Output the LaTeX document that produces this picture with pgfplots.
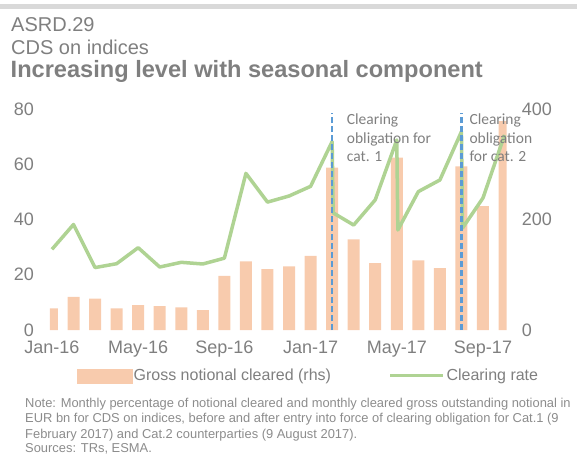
\documentclass[border=0pt]{standalone}
\usepackage{fontspec}
\setmainfont{Liberation Sans}
\newfontfamily\carlito{Carlito}
\usepackage{pgfplots}
\usepackage{pgfplotstable}
\pgfplotsset{compat=1.18}

\definecolor{txtgray}{HTML}{7F7F7F}
\definecolor{notegray}{HTML}{8C8C8C}
\definecolor{barc}{HTML}{F8CBAD}
\definecolor{linec}{HTML}{AFD393}
\definecolor{dashc}{HTML}{5B9BD5}
\definecolor{rulegray}{HTML}{D9D9D9}

% gross notional cleared, EUR bn (rhs); month index 0 = Jan-16
\pgfplotstableread{
idx notional
0 39
1 60
2 57
3 39
4 45
5 43
6 41
7 36
8 98
9 124
10 110
11 115
12 134
13 294
14 164
15 121
16 312
17 126
18 112
19 296
20 224
21 378
}\barsdata

% clearing rate, % (lhs)
\pgfplotstableread{
x rate
0 29.2
1 38.2
2 22.6
3 24.0
4 29.8
5 22.8
6 24.5
7 23.9
8 26.0
9 56.7
10 46.3
11 48.5
12 52.0
13 68.2
13.05 42.4
14 38.0
15 47.1
16 68.8
16.05 36.2
17 50.1
18 54.3
19 71.8
19.05 36.9
20 47.8
21 70.6
}\ratedata

\pgfplotsset{
  base/.style={
    anchor=south west, at={(49.8bp,-330bp)},
    width=456.9bp, height=221bp, scale only axis,
    xmin=-0.1, xmax=21.1,
    axis line style={draw=none}, major tick length=0pt,
    tick label style={font=\fontsize{18bp}{20bp}\selectfont, text=txtgray},
    /pgf/number format/assume math mode=true,
  },
  barlegend/.style={legend image code/.code={\fill[barc] (0bp,-7bp) rectangle (55bp,7bp);}},
  linelegend/.style={legend image code/.code={\draw[linec, line width=3.5bp] (0bp,0bp) -- (53bp,0bp);}},
}

\begin{document}
\begin{tikzpicture}
% bars, right axis
\begin{axis}[base, axis y line*=right, axis x line*=bottom,
  ymin=0, ymax=400, ytick={0,200,400},
  ybar, bar width=12bp,
  xtick={0,4,8,12,16,20},
  xticklabels={Jan-16,May-16,Sep-16,Jan-17,May-17,Sep-17},
  xticklabel style={inner sep=0pt, anchor=north, yshift=-11bp},
  yticklabel style={inner sep=0pt, anchor=west, xshift=15bp}]
\addplot[fill=barc, draw=none] table[x=idx, y=notional] {\barsdata};
\end{axis}
% line, left axis
\begin{axis}[base, axis y line*=left, axis x line*=bottom,
  ymin=0, ymax=80, ytick={0,20,40,60,80}, xtick=\empty,
  yticklabel style={inner sep=0pt, anchor=east, xshift=-15.8bp},
  legend columns=2,
  legend style={draw=none, fill=none, inner sep=0pt, outer sep=0pt,
    at={(0.0589,-0.2068)}, anchor=west,
    font=\fontsize{16bp}{18bp}\selectfont, text=txtgray,
    nodes={inner sep=1.5bp},
    /tikz/every even column/.append style={column sep=56bp}}]
\addlegendimage{barlegend}
\addlegendentry{Gross notional cleared (rhs)}
\addplot[linec, line width=3.5bp, line join=round, linelegend]
  table[x=x, y=rate] {\ratedata};
\addlegendentry{Clearing rate}
\addplot[dashc, line width=2.5bp, dash pattern=on 6bp off 3bp, forget plot]
  coordinates {(13,0) (13,78.4)};
\addplot[dashc, line width=2.5bp, dash pattern=on 6bp off 3bp, forget plot]
  coordinates {(19,0) (19,78.4)};
\end{axis}

% annotations
\node[anchor=north west, inner sep=0pt, align=left, text=txtgray,
  font=\carlito\fontsize{15.5bp}{18.5bp}\selectfont] at (346.7bp,-114bp)
  {Clearing\\obligation for\\cat. 1};
\node[anchor=north west, inner sep=0pt, align=left, text=txtgray,
  font=\carlito\fontsize{15.5bp}{18.5bp}\selectfont] at (469.3bp,-114bp)
  {Clearing\\obligation\\for cat. 2};

% header
\fill[rulegray] (0bp,-4bp) rectangle (577bp,-9bp);
\node[anchor=base west, inner sep=0pt, text=txtgray,
  font=\fontsize{20bp}{22bp}\selectfont] at (11bp,-31.3bp) {ASRD.29};
\node[anchor=base west, inner sep=0pt, text=txtgray,
  font=\fontsize{20bp}{22bp}\selectfont] at (11bp,-54.7bp) {CDS on indices};
\node[anchor=base west, inner sep=0pt, text=txtgray,
  font=\bfseries\fontsize{23.6bp}{26bp}\selectfont] at (10.5bp,-77.5bp)
  {Increasing level with seasonal component};

% note
\begin{scope}[every node/.style={anchor=base west, inner sep=0pt, text=notegray,
  font=\fontsize{12.9bp}{14bp}\selectfont}]
\node at (25bp,-407bp) {Note: Monthly percentage of notional cleared and monthly cleared gross outstanding notional in};
\node at (25bp,-422.5bp) {EUR bn for CDS on indices, before and after entry into force of clearing obligation for Cat.1 (9};
\node at (25bp,-438bp) {February 2017) and Cat.2 counterparties (9 August 2017).};
\node at (25bp,-452.5bp) {Sources: TRs, ESMA.};
\end{scope}

\pgfresetboundingbox
\path[use as bounding box] (0bp,0bp) rectangle (577bp,-454bp);
\end{tikzpicture}
\end{document}
